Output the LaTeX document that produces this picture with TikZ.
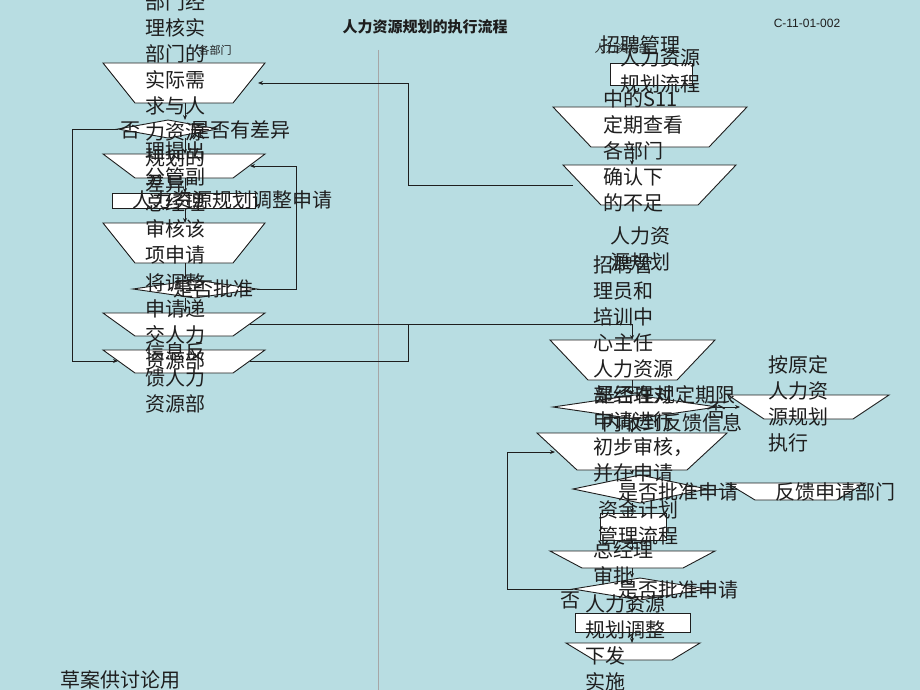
\documentclass[tikz,border=0pt]{standalone}
\usepackage{fontspec}
\setmainfont{Noto Sans CJK SC}
\newfontfamily\lsans{Liberation Sans}
\usetikzlibrary{arrows.meta}
\definecolor{bg}{RGB}{184,221,226}
\definecolor{ink}{RGB}{30,30,30}
\newcommand\mytrap[5]{\fill[white,draw=ink,line width=0.9pt] (#1,#3) -- (#2,#3) -- (#2-#5,#4) -- (#1+#5,#4) -- cycle;}
\newcommand\mydia[4]{\fill[white,draw=ink,line width=0.9pt] (#1-#3,#2) -- (#1,#2-#4) -- (#1+#3,#2) -- (#1,#2+#4) -- cycle;}
\newcommand\myrect[4]{\fill[white,draw=ink,line width=0.9pt] (#1,#3) rectangle (#2,#4);}
\tikzset{
 big/.style={font=\fontsize{20}{26}\selectfont,text=ink,inner sep=0pt,align=left},
 sml/.style={font=\fontsize{11}{13}\selectfont,text=ink,inner sep=0pt},
 con/.style={draw=ink,line width=0.9pt},
 arr/.style={con,-{Stealth[length=5pt,width=4pt]}}
}
\begin{document}
\begin{tikzpicture}[x=1pt,y=-1pt]
\fill[bg] (0,0) rectangle (920,690);
\useasboundingbox (0,0) rectangle (920,690);
\draw[gray!70,line width=0.5pt] (378,50) -- (378,690);
% left shapes
\mytrap{103}{265}{63}{103}{32}
\mydia{168}{129}{50}{9}
\mytrap{103}{265}{154}{178}{32}
\myrect{112}{255}{193}{208}
\mytrap{103}{265}{223}{263}{32}
\mydia{195}{289}{62}{9}
\mytrap{103}{265}{313}{336}{32}
\mytrap{103}{265}{350}{373}{32}
% right shapes
\myrect{610}{692}{63}{85}
\mytrap{553}{747}{107}{147}{38}
\mytrap{563}{736}{165}{205}{38}
\mytrap{550}{715}{340}{380}{38}
\mydia{635}{407}{82}{12}
\mytrap{728}{889}{395}{419}{36}
\mytrap{537}{727}{433}{470}{40}
\mydia{640}{489}{67}{14}
\mytrap{727}{865}{483}{500}{28}
\myrect{600}{666}{513}{540}
\mytrap{550}{715}{551}{568}{32}
\mydia{640}{589}{67}{11}
\myrect{575}{690}{613}{632}
\mytrap{566}{700}{643}{660}{28}
% named attach points
\coordinate (t1r) at (258,83); \coordinate (d1l) at (118,129);
\coordinate (t2r) at (250,166); \coordinate (d2r) at (257,289);
\coordinate (t4r) at (250,324); \coordinate (t5r) at (250,361);
\coordinate (t5l) at (118,361);
\coordinate (rt2l) at (573,185); \coordinate (rt3t) at (632,340);
\coordinate (rd1r) at (717,407); \coordinate (rt4l) at (740,407);
\coordinate (rd2r) at (707,489); \coordinate (rt6l) at (735,489);
\coordinate (rd3l) at (573,589); \coordinate (rt5l) at (555,452);
% connectors
\draw[arr] (d1l) -- (72,129) -- (72,361) -- (t5l);
\draw[arr] (d2r) -- (296,289) -- (296,166) -- (t2r);
\draw[arr] (rt2l) -- (408,185) -- (408,83) -- (t1r);
\draw[arr] (t4r) -- (632,324) -- (rt3t);
\draw[con] (t5r) -- (408,361) -- (408,324);
\draw[arr] (rd1r) -- (rt4l);
\draw[arr] (rd2r) -- (rt6l);
\draw[arr] (rd3l) -- (507,589) -- (507,452) -- (rt5l);
\foreach \a/\b in {{185,103}/{185,120},{185,138}/{185,154},{185,178}/{185,193},{185,208}/{185,223},{185,263}/{185,280},{185,298}/{185,313},{632,147}/{632,165},{632,380}/{632,395},{632,419}/{632,433},{632,470}/{632,475},{632,503}/{632,513},{632,540}/{632,551},{632,568}/{632,578},{632,600}/{632,613},{632,632}/{632,643}}
  \draw[arr] (\a) -- (\b);
% texts left
\node[big,anchor=north west] (c1) at (145,-8) {部门经\\理核实\\部门的\\实际需\\求与人\\力资源\\规划的\\差异};
\node[sml] (gb) at (215,50) {各部门};
\node[big] (no1) at (130,130) {否};
\node[big] (q1) at (240,130) {是否有差异};
\node[big] (rq) at (232,200) {人力资源规划调整申请};
\node[big,anchor=north west] (c2) at (145,142) {理提出\\分管副\\总经理\\审核该\\项申请};
\node[big] (q2) at (213,289) {是否批准};
\node[big,anchor=north west] (c3) at (145,273) {将调整\\申请递\\交人力\\资源部};
\node[big,anchor=north west] (c4) at (145,342) {信息反\\馈人力\\资源部};
% title
\node[font=\bfseries\fontsize{15}{17}\selectfont,text=ink] (title) at (425,27) {人力资源规划的执行流程};
\node[font=\lsans\fontsize{12}{14}\selectfont,text=ink] (code) at (807,23) {C-11-01-002};
% texts right
\node[sml] (hr) at (622,48) {人力资源部};
\node[big] (zp) at (640,45) {招聘管理};
\node[big,anchor=north west] (lc) at (620,49) {人力资源\\ 规划流程};
\node[big,anchor=north west] (c5) at (603,89) {中的S11\\定期查看\\各部门\\确认下\\的不足};
\node[big,anchor=north west] (c6) at (610,227) {人力资\\源规划};
\node[big,anchor=north west] (c7) at (593,255) {招聘管\\理员和\\培训中\\心主任\\人力资源\\部经理对\\申请进行\\初步审核，\\并在申请};
\node[big] (q3a) at (665,395) {是否在规定期限};
\node[big] (q3b) at (672,423) {内收到反馈信息};
\node[big] (no3) at (716,410) {否};
\node[big,anchor=north west] (c8) at (768,355) {按原定\\人力资\\源规划\\执行};
\node[big] (q4) at (678,492) {是否批准申请};
\node[big] (fb) at (835,492) {反馈申请部门};
\node[big,anchor=north west] (c9) at (598,500) {资金计划\\管理流程};
\node[big,anchor=north west] (c10) at (593,540) {总经理\\审批};
\node[big] (no5) at (570,600) {否};
\node[big] (q5) at (678,590) {是否批准申请};
\node[big,anchor=north west] (c11) at (585,595) {人力资源\\规划调整\\下发\\实施};
\node[big] (draft) at (120,680) {草案供讨论用};
\end{tikzpicture}
\end{document}
